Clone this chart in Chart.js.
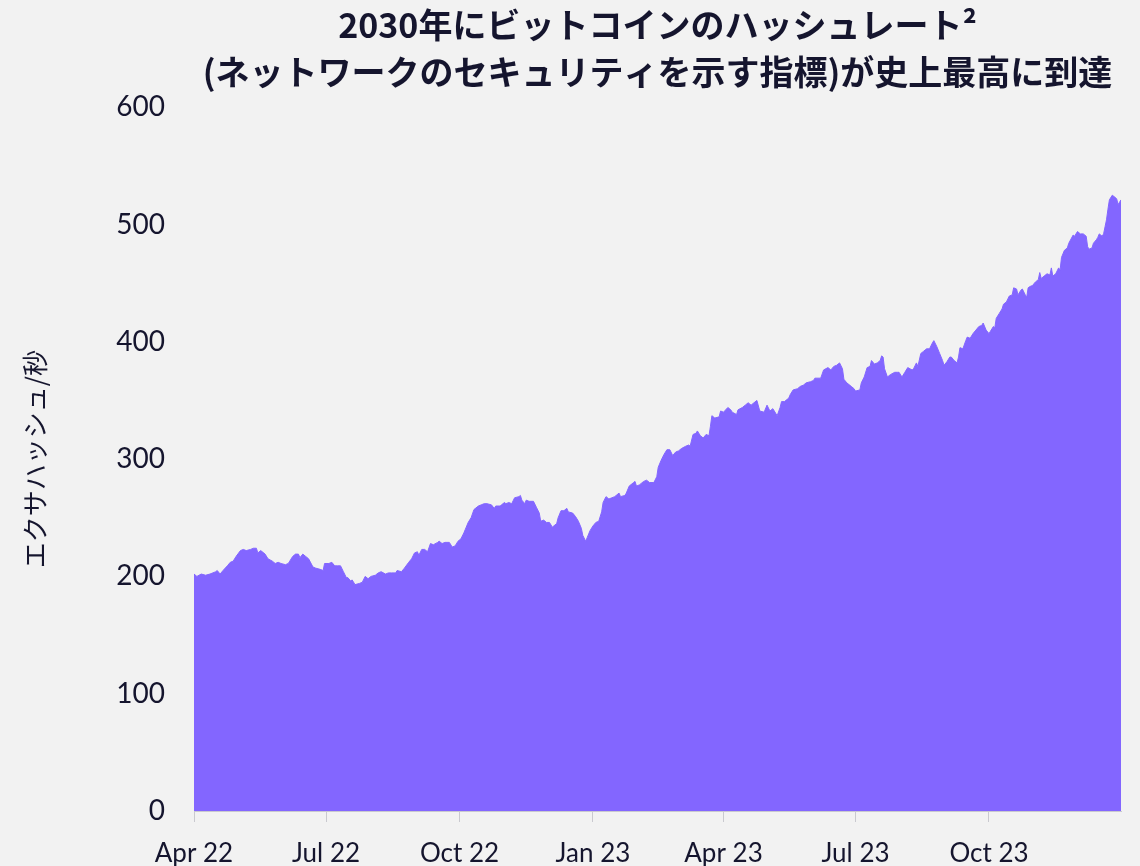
<!DOCTYPE html>
<html lang="ja">
<head>
<meta charset="utf-8">
<title>ビットコインのハッシュレート</title>
<script src="https://cdn.jsdelivr.net/npm/chart.js@4.4.1/dist/chart.umd.min.js"></script>
<style>
    html, body {
        margin: 0;
        padding: 0;
        background: #f2f2f2;
    }
    #container {
        width: 1140px;
        height: 866px;
    }
</style>
</head>
<body>
<div id="container">
    <canvas id="hashChart" width="1140" height="866"></canvas>
</div>
<script>
// days since 1 Apr 2022
const days = [
    0, 2, 5, 8, 11, 15, 16, 18, 20, 23, 25, 27, 29, 32, 34, 36, 39, 41, 43, 44,
    46, 49, 51, 54, 56, 58, 60, 63, 65, 66, 68, 70, 72, 73, 75, 77, 79, 82, 84, 87,
    89, 90, 93, 95, 97, 99, 101, 103, 105, 106, 108, 109, 111, 114, 116, 118, 120, 122, 125, 127,
    129, 132, 134, 136, 139, 140, 143, 145, 148, 150, 152, 154, 155, 157, 159, 161, 163, 165, 168, 169,
    171, 173, 176, 178, 180, 182, 184, 186, 189, 191, 193, 196, 198, 200, 202, 205, 207, 208, 211, 212,
    214, 215, 217, 219, 221, 224, 225, 226, 228, 229, 231, 234, 236, 238, 239, 241, 243, 245, 247, 250,
    251, 253, 255, 257, 258, 261, 263, 265, 267, 268, 270, 271, 273, 275, 277, 279, 281, 282, 284, 286,
    288, 290, 293, 294, 297, 298, 300, 303, 304, 305, 307, 310, 312, 314, 317, 319, 320, 322, 324, 326,
    328, 330, 332, 334, 336, 339, 341, 342, 344, 346, 347, 349, 351, 353, 355, 356, 357, 359, 362, 363,
    365, 368, 370, 371, 374, 375, 378, 380, 382, 384, 386, 388, 390, 393, 395, 397, 399, 401, 402, 404,
    405, 407, 410, 411, 413, 416, 418, 420, 422, 425, 427, 428, 432, 434, 437, 439, 441, 443, 445, 447,
    448, 450, 453, 455, 456, 459, 460, 462, 464, 466, 467, 469, 471, 473, 474, 475, 476, 478, 480, 483,
    485, 486, 488, 490, 492, 495, 496, 498, 499, 501, 503, 505, 507, 509, 510, 512, 514, 516, 517, 519,
    521, 522, 524, 526, 527, 528, 530, 532, 533, 535, 537, 539, 541, 543, 544, 546, 548, 549, 551, 552,
    553, 555, 557, 558, 560, 562, 564, 565, 567, 568, 570, 571, 573, 574, 575, 576, 578, 580, 582, 583,
    584, 586, 588, 590, 591, 592, 594, 596, 597, 598, 600, 602, 603, 606, 607, 609, 611, 613, 615, 616,
    617, 619, 620, 622, 623, 624, 626, 627, 628, 629, 630, 631, 633, 634, 636, 637, 638, 639
];

// EH/s
const hashRate = [
    202, 200, 202, 201, 202, 204, 205, 202, 205, 209, 212, 213, 217, 222, 223, 222, 223, 224, 224, 220,
    222, 219, 215, 213, 211, 212, 211, 210, 211, 213, 217, 219, 219, 216, 219, 217, 215, 208, 207, 206,
    205, 211, 211, 212, 209, 209, 209, 204, 199, 199, 196, 197, 193, 194, 195, 200, 198, 200, 201, 203,
    204, 202, 203, 203, 203, 205, 204, 207, 212, 215, 220, 221, 218, 223, 223, 221, 228, 227, 229, 230,
    228, 229, 229, 225, 226, 230, 232, 237, 246, 250, 257, 260, 261, 262, 262, 261, 258, 260, 260, 261,
    263, 262, 263, 262, 267, 268, 269, 265, 262, 265, 264, 264, 259, 254, 247, 248, 246, 246, 242, 245,
    250, 256, 256, 258, 255, 254, 251, 247, 241, 235, 230, 233, 239, 243, 246, 247, 255, 263, 268, 266,
    267, 268, 271, 268, 269, 271, 277, 280, 281, 277, 278, 281, 282, 280, 280, 285, 293, 299, 304, 308,
    308, 303, 306, 307, 309, 311, 312, 311, 321, 322, 324, 320, 318, 321, 320, 328, 337, 335, 336, 341,
    340, 344, 342, 340, 338, 342, 344, 346, 348, 346, 348, 350, 341, 340, 346, 341, 343, 339, 337, 344,
    349, 349, 352, 355, 359, 360, 362, 363, 365, 366, 367, 369, 369, 376, 378, 376, 379, 380, 382, 377,
    368, 365, 362, 360, 358, 359, 365, 370, 378, 379, 384, 381, 382, 384, 388, 387, 377, 370, 372, 374,
    374, 374, 370, 374, 378, 376, 377, 382, 379, 390, 392, 394, 394, 399, 401, 396, 390, 384, 380, 383,
    387, 387, 384, 382, 387, 395, 394, 401, 404, 403, 407, 410, 413, 414, 416, 410, 407, 409, 413, 412,
    420, 424, 428, 432, 434, 439, 440, 446, 445, 440, 444, 445, 440, 438, 446, 447, 448, 451, 453, 459,
    454, 456, 458, 457, 463, 456, 458, 463, 461, 472, 478, 480, 484, 491, 490, 494, 492, 492, 490, 481,
    479, 480, 484, 487, 489, 492, 490, 492, 498, 504, 513, 521, 525, 524, 522, 517, 519, 521
];

const tickDates = ['2022-04-01', '2022-07-01', '2022-10-01', '2023-01-01', '2023-04-01', '2023-07-01', '2023-10-01'];
const tickLabels = ['Apr 22', 'Jul 22', 'Oct 22', 'Jan 23', 'Apr 23', 'Jul 23', 'Oct 23'];
const yTicks = [0, 100, 200, 300, 400, 500, 600];

const titleLines = ['2030年にビットコインのハッシュレート²', '(ネットワークのセキュリティを示す指標)が史上最高に到達'];
const yAxisTitle = 'エクサハッシュ/秒';

const HashrateView = {
    chart: null,

    dayOffset(dateStr) {
        const start = Date.UTC(2022, 3, 1);
        const [y, m, d] = dateStr.split('-').map(Number);
        return Math.round((Date.UTC(y, m - 1, d) - start) / 86400000);
    },

    render() {
        const ink = '#15152e';
        const axisGrey = '#c9c9cf';
        const tickDays = tickDates.map(d => this.dayOffset(d));
        const points = days.map((d, i) => ({ x: d, y: hashRate[i] }));

        const ctx = document.getElementById('hashChart').getContext('2d');
        this.chart = new Chart(ctx, {
            type: 'line',
            data: {
                datasets: [{
                    label: 'ハッシュレート',
                    data: points,
                    fill: 'origin',
                    backgroundColor: '#8366ff',
                    borderColor: '#8366ff',
                    borderWidth: 1,
                    pointRadius: 0,
                    tension: 0
                }]
            },
            options: {
                responsive: false,
                animation: false,
                layout: {
                    padding: { left: 0, right: 19, top: 0, bottom: 0 }
                },
                scales: {
                    x: {
                        type: 'linear',
                        min: 0,
                        max: days[days.length - 1],
                        afterBuildTicks: (scale) => {
                            scale.ticks = tickDays.map(v => ({ value: v }));
                        },
                        afterFit: (scale) => {
                            scale.height = 55;
                        },
                        ticks: {
                            autoSkip: false,
                            maxRotation: 0,
                            padding: 16,
                            color: ink,
                            font: { family: 'Lato', size: 26 },
                            callback: (value) => {
                                const i = tickDays.indexOf(value);
                                return i >= 0 ? tickLabels[i] : '';
                            }
                        },
                        grid: {
                            drawOnChartArea: false,
                            drawTicks: true,
                            tickLength: 11,
                            color: axisGrey
                        },
                        border: { display: true, color: axisGrey, width: 1 }
                    },
                    y: {
                        min: 0,
                        max: 600,
                        afterBuildTicks: (scale) => {
                            scale.ticks = yTicks.map(v => ({ value: v }));
                        },
                        afterFit: (scale) => {
                            scale.width = 194;
                        },
                        ticks: {
                            padding: 21,
                            color: ink,
                            font: { family: 'Lato', size: 28 }
                        },
                        grid: { display: false },
                        border: { display: false },
                        title: {
                            display: true,
                            text: yAxisTitle,
                            color: ink,
                            font: { family: 'Noto Sans CJK JP', size: 26 },
                            padding: { top: 20, bottom: 0 }
                        }
                    }
                },
                plugins: {
                    legend: { display: false },
                    tooltip: { enabled: false },
                    title: {
                        display: true,
                        fullSize: false,
                        text: titleLines,
                        color: ink,
                        font: { family: 'Noto Sans CJK JP', size: 34, weight: 'bold', lineHeight: 1.4 },
                        padding: { top: 1, bottom: 11 }
                    }
                }
            }
        });
    }
};

HashrateView.render();
</script>
</body>
</html>
